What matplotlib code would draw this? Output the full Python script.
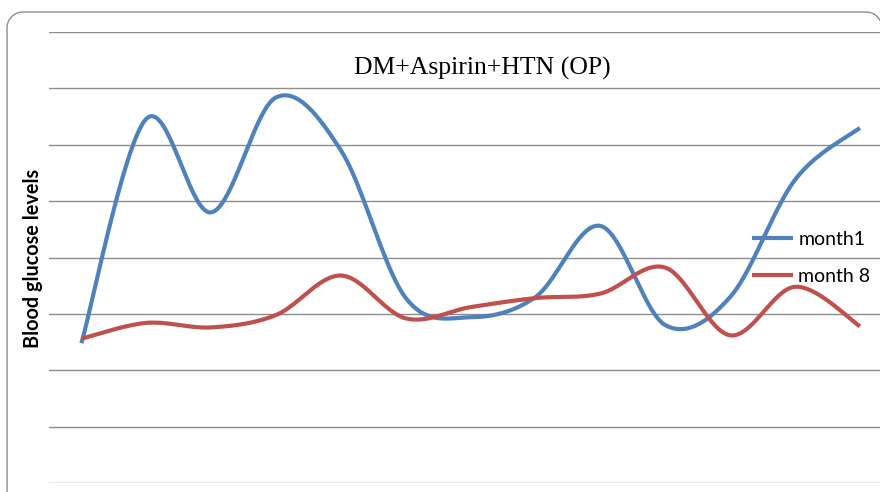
import numpy as np
import matplotlib.pyplot as plt

# blood glucose readings per patient visit
visits = list(range(1, 14))
month1 = [124, 323, 240, 342, 295, 164, 147, 165, 228, 140, 165, 269, 315]
month8 = [128, 142, 138, 149, 184, 146, 156, 164, 168, 191, 131, 174, 139]

BLUE = '#4F81BD'
RED = '#C0504D'
GRID = '#8c8c8c'


def smooth(xs, ys, steps=40):
    """Bezier smoothing through every point (same look as spreadsheet 'smoothed line')."""
    x = np.asarray(xs, float)
    y = np.asarray(ys, float)
    xp = np.concatenate([[x[0]], x, [x[-1]]])
    yp = np.concatenate([[y[0]], y, [y[-1]]])
    out_x, out_y = [], []
    t = np.linspace(0, 1, steps)
    for i in range(1, len(xp) - 2):
        p0 = np.array([xp[i], yp[i]])
        p3 = np.array([xp[i + 1], yp[i + 1]])
        p1 = p0 + (np.array([xp[i + 1], yp[i + 1]]) - np.array([xp[i - 1], yp[i - 1]])) / 6
        p2 = p3 - (np.array([xp[i + 2], yp[i + 2]]) - np.array([xp[i], yp[i]])) / 6
        b = ((1 - t) ** 3)[:, None] * p0 + (3 * (1 - t) ** 2 * t)[:, None] * p1 \
            + (3 * (1 - t) * t ** 2)[:, None] * p2 + (t ** 3)[:, None] * p3
        out_x.extend(b[:, 0])
        out_y.extend(b[:, 1])
    return np.array(out_x), np.array(out_y)


fig = plt.figure(figsize=(8.8, 4.92), dpi=100)
fig.patch.set_facecolor('white')

# background axes in pixel units, only used for the rounded chart border
bg = fig.add_axes([0, 0, 1, 1])
bg.set_xlim(0, 880)
bg.set_ylim(492, 0)
bg.axis('off')
r = 16
left, top, right = 7, 12, 882
a = np.linspace(np.pi, 1.5 * np.pi, 20)
a2 = np.linspace(1.5 * np.pi, 2 * np.pi, 20)
px = np.concatenate([[left], left + r + r * np.cos(a), right - r + r * np.cos(a2), [right]])
py = np.concatenate([[520], top + r + r * np.sin(a), top + r + r * np.sin(a2), [520]])
bg.plot(px, py, color=GRID, lw=1.0)

ax = fig.add_axes([49 / 880, 9 / 492, (880 - 49) / 880, (483 - 32) / 492])
ax.set_facecolor('none')

bx, by = smooth(visits, month1)
rx, ry = smooth(visits, month8)
ax.plot(bx, by, color=BLUE, lw=3.0, solid_capstyle='butt', label='month1')
ax.plot(rx, ry, color=RED, lw=3.0, solid_capstyle='butt', label='month 8')

ax.set_ylim(0, 400)
ax.set_yticks(np.arange(0, 401, 50))
ax.set_xlim(0.5, 13 + 20 / 64.8)
ax.yaxis.grid(True, color=GRID, linewidth=1.0)
ax.set_axisbelow(True)
ax.tick_params(left=False, bottom=False, labelleft=False, labelbottom=False)
for s in ax.spines.values():
    s.set_visible(False)

fig.text(482 / 880, 1 - 68 / 492, 'DM+Aspirin+HTN (OP)', ha='center', va='center',
         fontsize=18.5, family='Liberation Serif')
fig.text(33 / 880, 1 - 258 / 492, 'Blood glucose levels', ha='center', va='center',
         rotation=90, fontsize=14.3, fontweight='bold', family='Lato')

ax.legend(loc='center left', bbox_to_anchor=(744 / 880, 1 - 258 / 492),
          bbox_transform=fig.transFigure, frameon=False, borderaxespad=0,
          prop={'family': 'Lato', 'size': 14},
          handlelength=2.1, handletextpad=0.3, labelspacing=1.05)

fig.savefig('out.png', dpi=100)
